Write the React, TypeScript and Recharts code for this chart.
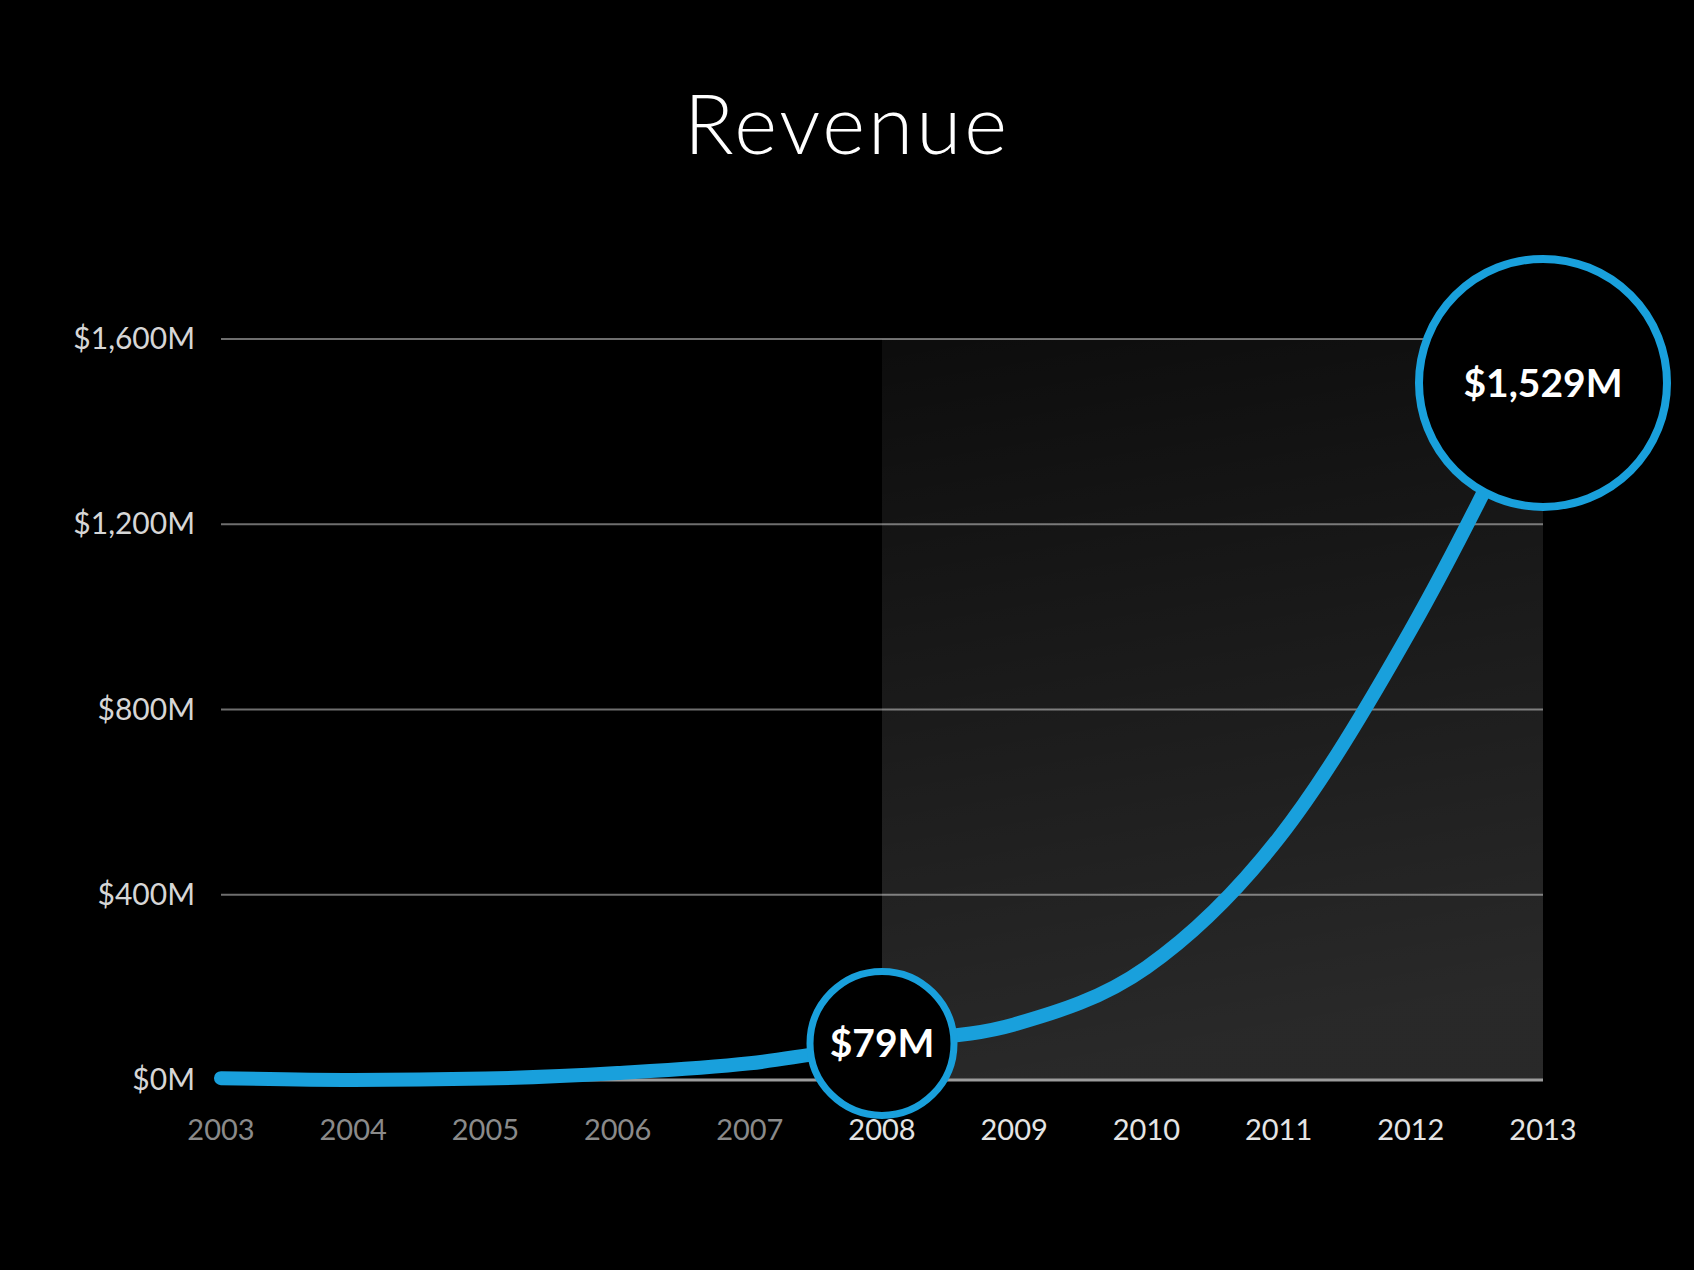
import { CartesianGrid, Line, LineChart, ReferenceArea, ReferenceLine, XAxis, YAxis } from "recharts";

const years = [2003, 2004, 2005, 2006, 2007, 2008, 2009, 2010, 2011, 2012, 2013];
const revenue = [4, 0, 3, 15, 36, 79, 120, 243, 522, 972, 1529];
const yTicks = [0, 400, 800, 1200, 1600];
const highlightYears = [2008, 2013];
const shadeFrom = 2008;

const BLUE = "#19a0dc";

const data = years.map((year, i) => ({ year, revenue: revenue[i] }));

function YTick({ x, y, payload }: any) {
  return (
    <text x={x} y={y} dy={10} textAnchor="end" fill="#d6d6d6" fontSize={30} fontFamily="Lato">
      {`$${payload.value.toLocaleString("en-US")}M`}
    </text>
  );
}

function XTick({ x, y, payload }: any) {
  const bright = payload.value >= shadeFrom;
  return (
    <text x={x} y={y} dy={60} textAnchor="middle" fill={bright ? "#e4e4e4" : "#8a8a8a"} fontSize={29} fontFamily="Lato">
      {payload.value}
    </text>
  );
}

function HighlightDot({ cx, cy, payload, index }: any) {
  if (!highlightYears.includes(payload.year)) return <g key={`d-${index}`} />;
  const big = payload.year === 2013;
  const r = big ? 124 : 72;
  const y = big ? cy + 11 : cy;
  return (
    <g key={`d-${index}`}>
      <circle cx={cx} cy={y} r={r} fill="#000" stroke={BLUE} strokeWidth={big ? 8 : 7} />
      <text x={cx} y={y} dy={14} textAnchor="middle" fill="#fff" fontSize={39} fontWeight={700} fontFamily="Lato">
        {`$${payload.revenue.toLocaleString("en-US")}M`}
      </text>
    </g>
  );
}

export default function App() {
  return (
    <div style={{ position: "relative", width: 1694, height: 1270, background: "#000" }}>
      <style>{`body{margin:0;background:#000}`}</style>
      <div
        style={{
          position: "absolute",
          top: 82,
          left: 0,
          width: 1694,
          textAlign: "center",
          color: "#fff",
          fontFamily: "Lato",
          fontWeight: 300,
          fontSize: 82,
          letterSpacing: 3,
          lineHeight: "80px",
        }}
      >
        Revenue
      </div>
      <LineChart width={1694} height={1270} data={data} margin={{ top: 339, right: 151, left: 0, bottom: 130 }}>
        <defs>
          <linearGradient id="shade" x1="0" y1="0" x2="0.15" y2="1">
            <stop offset="0%" stopColor="#fff" stopOpacity={0.05} />
            <stop offset="100%" stopColor="#fff" stopOpacity={0.16} />
          </linearGradient>
        </defs>
        <ReferenceArea x1={shadeFrom} x2={2013} y1={0} y2={1600} fill="url(#shade)" fillOpacity={1} stroke="none" />
        <CartesianGrid vertical={false} stroke="#6e6e6e" strokeWidth={2} />
        <ReferenceLine y={0} stroke="#9c9c9c" strokeWidth={3} />
        <XAxis
          dataKey="year"
          type="number"
          domain={[2003, 2013]}
          ticks={years}
          axisLine={false}
          tickLine={false}
          tickSize={0}
          tickMargin={0}
          height={60}
          tick={<XTick />}
          interval={0}
        />
        <YAxis
          type="number"
          domain={[0, 1600]}
          ticks={yTicks}
          axisLine={false}
          tickLine={false}
          tickSize={0}
          tickMargin={26}
          width={221}
          tick={<YTick />}
        />
        <Line
          type="monotone"
          dataKey="revenue"
          stroke={BLUE}
          strokeWidth={14}
          strokeLinecap="round"
          dot={HighlightDot}
          activeDot={false}
          isAnimationActive={false}
        />
      </LineChart>
    </div>
  );
}
